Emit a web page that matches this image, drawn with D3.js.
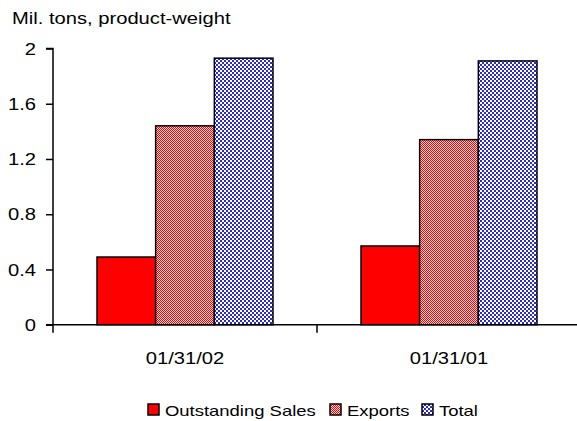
<!DOCTYPE html>
<html><head><meta charset="utf-8">
<script src="https://cdn.jsdelivr.net/npm/d3@7"></script>
<style>body{margin:0;background:#fff}svg{display:block}text{font-family:"Liberation Sans",Arial,sans-serif;fill:#000}</style>
</head><body><div id="c"></div>
<script>
const categories = ["01/31/02", "01/31/01"];
const seriesNames = ["Outstanding Sales", "Exports", "Total"];
const outstanding = [0.49, 0.57];
const exportsV = [1.44, 1.34];
const total = [1.93, 1.91];
const yTicks = [0, 0.4, 0.8, 1.2, 1.6, 2];
const values = [outstanding, exportsV, total];

const W = 577, H = 421, FS = 16, SX = 1.26;
const m = {left: 53, top: 48.5, bottom: 324.7};
const svg = d3.select("#c").append("svg").attr("width", W).attr("height", H);
const defs = svg.append("defs");
const p1 = defs.append("pattern").attr("id","pr").attr("patternUnits","userSpaceOnUse").attr("width",2).attr("height",2);
p1.append("rect").attr("width",2).attr("height",2).attr("fill","#ffe0e0");
p1.append("rect").attr("width",1).attr("height",1).attr("fill","#ff0000");
p1.append("rect").attr("x",1).attr("y",1).attr("width",1).attr("height",1).attr("fill","#ff0000");
const p2 = defs.append("pattern").attr("id","pb").attr("patternUnits","userSpaceOnUse").attr("width",4).attr("height",4);
p2.append("rect").attr("width",4).attr("height",4).attr("fill","#ffffff");
p2.append("rect").attr("width",2).attr("height",2).attr("fill","#2b2bcc");
p2.append("rect").attr("x",2).attr("y",2).attr("width",2).attr("height",2).attr("fill","#2b2bcc");
const fills = ["#ff0000", "url(#pr)", "url(#pb)"];

function stretch(sel, fs = FS, sx = SX) {
  sel.each(function() {
    const t = d3.select(this);
    t.attr("font-size", fs).attr("font-family", "Liberation Sans, Arial, sans-serif").attr("fill", "#000");
    const len = this.getComputedTextLength();
    t.attr("textLength", len * sx).attr("lengthAdjust", "spacingAndGlyphs");
  });
}

const x0 = d3.scaleBand().domain(categories).range([m.left, m.left + 528]).paddingInner(0).paddingOuter(0);
const x1 = d3.scaleBand().domain(seriesNames).range([0, x0.bandwidth()]).paddingInner(0).paddingOuter(0.75);
const y = d3.scaleLinear().domain([0, 2]).range([m.bottom, m.top]);

svg.append("text").attr("x", 12).attr("y", 23.5).text("Mil. tons, product-weight").call(stretch);

categories.forEach((c, ci) => {
  seriesNames.forEach((s, si) => {
    const v = values[si][ci];
    svg.append("rect")
      .attr("x", x0(c) + x1(s)).attr("y", y(v))
      .attr("width", x1.bandwidth()).attr("height", y(0) - y(v))
      .attr("fill", fills[si]).attr("stroke", "#000").attr("stroke-width", 1.5);
  });
});

const ya = svg.append("g").attr("transform", `translate(${m.left},0)`)
  .call(d3.axisLeft(y).tickValues(yTicks).tickSize(7).tickFormat(d => String(d)));
ya.select(".domain").attr("d", `M-7,${y(2)}H0V${y(0)}`).attr("stroke","#000").attr("stroke-width",1.5);
ya.selectAll(".tick line").attr("stroke","#000").attr("stroke-width",1.5);
ya.selectAll(".tick text").attr("x", -17).attr("dy", "0.35em").call(stretch);

const xa = svg.append("g").attr("transform", `translate(0,${m.bottom})`)
  .call(d3.axisBottom(x0).tickSize(0).tickPadding(0));
xa.select(".domain").attr("d", `M${m.left - 7},0H${W}`).attr("stroke","#000").attr("stroke-width",1.5);
xa.selectAll(".tick text").attr("y", 39).attr("dy", 0).call(stretch);
categories.forEach((c) => {
  xa.append("line").attr("x1", x0(c)).attr("x2", x0(c)).attr("y1", 0).attr("y2", 8).attr("stroke","#000").attr("stroke-width",1.5);
});

const lg = svg.append("g");
const lx = [148, 330, 422];
seriesNames.forEach((s, i) => {
  lg.append("rect").attr("x", lx[i]).attr("y", 404).attr("width", 11).attr("height", 11)
    .attr("fill", fills[i]).attr("stroke", "#000").attr("stroke-width", 1.5);
  lg.append("text").attr("x", lx[i] + 17).attr("y", 416).text(s).call(stretch, 15, 1.23);
});
</script></body></html>
